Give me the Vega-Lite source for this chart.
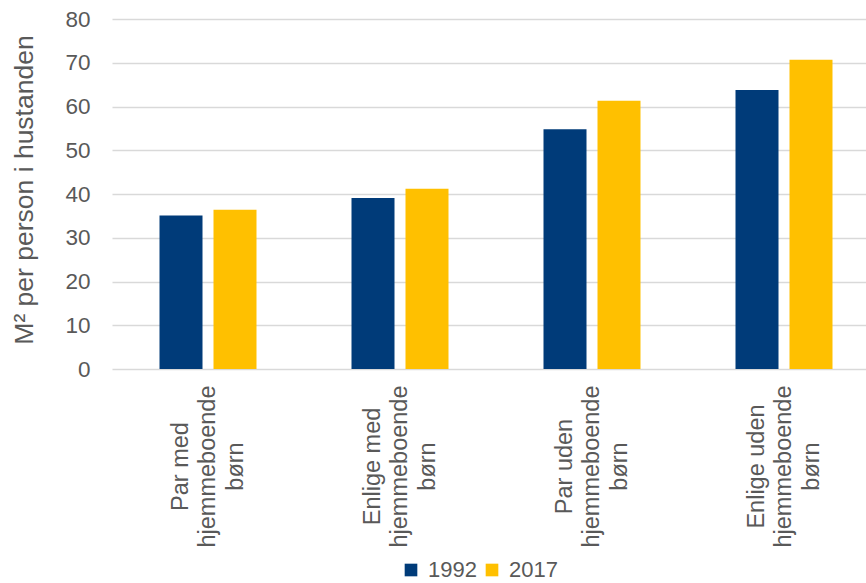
{
  "$schema": "https://vega.github.io/schema/vega-lite/v6.json",
  "autosize": "none",
  "width": 754,
  "height": 350,
  "padding": {"left": 112, "top": 19, "right": 0, "bottom": 214},
  "background": "white",
  "data": {
    "values": [
      {"group": "Par med hjemmeboende børn", "year": "1992", "value": 35.1},
      {"group": "Par med hjemmeboende børn", "year": "2017", "value": 36.4},
      {"group": "Enlige med hjemmeboende børn", "year": "1992", "value": 39.1},
      {"group": "Enlige med hjemmeboende børn", "year": "2017", "value": 41.2},
      {"group": "Par uden hjemmeboende børn", "year": "1992", "value": 54.8},
      {"group": "Par uden hjemmeboende børn", "year": "2017", "value": 61.3},
      {"group": "Enlige uden hjemmeboende børn", "year": "1992", "value": 63.8},
      {"group": "Enlige uden hjemmeboende børn", "year": "2017", "value": 70.7}
    ]
  },
  "mark": {"type": "bar"},
  "encoding": {
    "x": {
      "field": "group",
      "type": "nominal",
      "sort": null,
      "scale": {"range": [0, 768], "paddingInner": 0.4948, "paddingOuter": 0.2474},
      "axis": {
        "title": null,
        "domain": false,
        "ticks": false,
        "tickSize": 0,
        "labelAngle": -90,
        "labelAlign": "center",
        "labelBaseline": "middle",
        "labelPadding": 97,
        "labelOffset": -27.5,
        "labelFont": "Liberation Sans",
        "labelFontSize": 23.5,
        "labelLineHeight": 27.5,
        "labelColor": "#595959",
        "labelExpr": "[replace(datum.label, ' hjemmeboende børn', ''), 'hjemmeboende', 'børn']"
      }
    },
    "xOffset": {
      "field": "year",
      "type": "nominal",
      "scale": {"paddingInner": 0.2037, "paddingOuter": 0}
    },
    "y": {
      "field": "value",
      "type": "quantitative",
      "scale": {"domain": [0, 80], "nice": false},
      "axis": {
        "title": "M² per person i hustanden",
        "values": [0, 10, 20, 30, 40, 50, 60, 70, 80],
        "domain": false,
        "ticks": false,
        "labelPadding": 22,
        "labelFont": "Liberation Sans",
        "labelFontSize": 22.5,
        "labelColor": "#595959",
        "grid": true,
        "gridColor": "#D9D9D9",
        "gridWidth": 1.3,
        "titleFont": "Liberation Sans",
        "titleFontSize": 26.5,
        "titleFontWeight": "normal",
        "titleColor": "#595959",
        "titleAngle": -90,
        "titleBaseline": "middle",
        "titleAlign": "center",
        "titleX": -88,
        "titleY": 170.5
      }
    },
    "color": {
      "field": "year",
      "type": "nominal",
      "scale": {"domain": ["1992", "2017"], "range": ["#003B79", "#FFC000"]},
      "legend": {
        "title": null,
        "orient": "none",
        "direction": "horizontal",
        "legendX": 288,
        "legendY": 540,
        "symbolType": "square",
        "symbolSize": 160,
        "symbolStrokeWidth": 0,
        "labelFont": "Liberation Sans",
        "labelFontSize": 22,
        "labelColor": "#595959",
        "labelOffset": 6,
        "columnPadding": 4
      }
    }
  },
  "config": {
    "view": {"stroke": null}
  }
}
